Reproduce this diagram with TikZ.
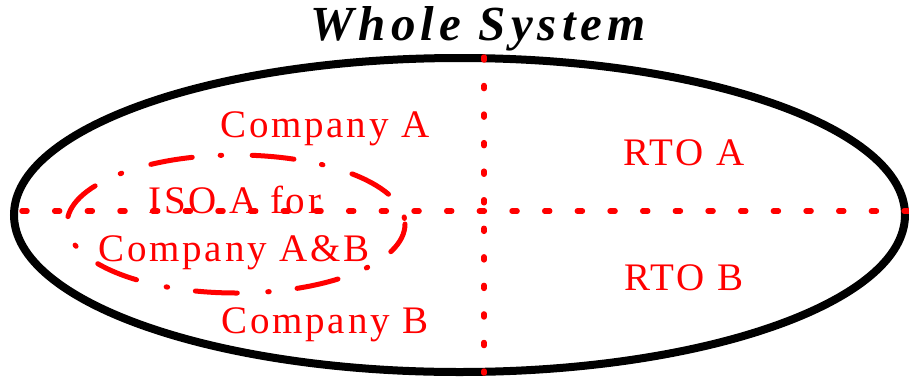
\documentclass[tikz,border=0pt]{standalone}
\usepackage{fontspec}
\setmainfont{Liberation Serif}
\newfontfamily\titlefont[LetterSpace=10.5]{Liberation Serif}
\newfontfamily\labelfont[LetterSpace=7]{Liberation Serif}
\begin{document}
\begin{tikzpicture}[x=1pt,y=-1pt,
  lbl/.style={anchor=base, inner sep=0pt, text=red, font=\labelfont\fontsize{39}{39}\selectfont},
  hdots/.style={draw=red, line width=5.5pt, line cap=round, dash pattern=on 5pt off 27.67pt},
  vdots/.style={draw=red, line width=5.5pt, line cap=round, dash pattern=on 3pt off 25.55pt},
  dashdot/.style={draw=red, line width=5pt, line cap=round, dash pattern=on 42pt off 28pt on 1.5pt off 30.5pt}]
\useasboundingbox (0,0) rectangle (909,378);
% outer system ellipse
\draw[line width=8pt] (459.5,215) ellipse [x radius=445.5, y radius=157];
% dividing lines
\coordinate (hl) at (22,211);
\coordinate (hr) at (912,211);
\coordinate (vt) at (484,57);
\coordinate (vb) at (484,373);
\draw[hdots] (hl) -- (hr);
\draw[vdots] (vt) -- (vb);
% ISO ellipse
\draw[dashdot, dash phase=10pt] (236,224) ellipse [x radius=169, y radius=69];
% title
\node[anchor=base, inner sep=0pt, font=\titlefont\bfseries\itshape\fontsize{49}{49}\selectfont] (title) at (478,40) {Whole System};
% labels
\node[lbl] (ca) at (325,137) {Company A};
\node[lbl] (cb) at (325,333) {Company B};
\node[lbl] (ra) at (684,165) {RTO A};
\node[lbl] (rb) at (684,290) {RTO B};
\node[lbl] (iso1) at (235,213) {ISO A for};
\node[lbl] (iso2) at (234,261) {Company A\&B};
\end{tikzpicture}
\end{document}
